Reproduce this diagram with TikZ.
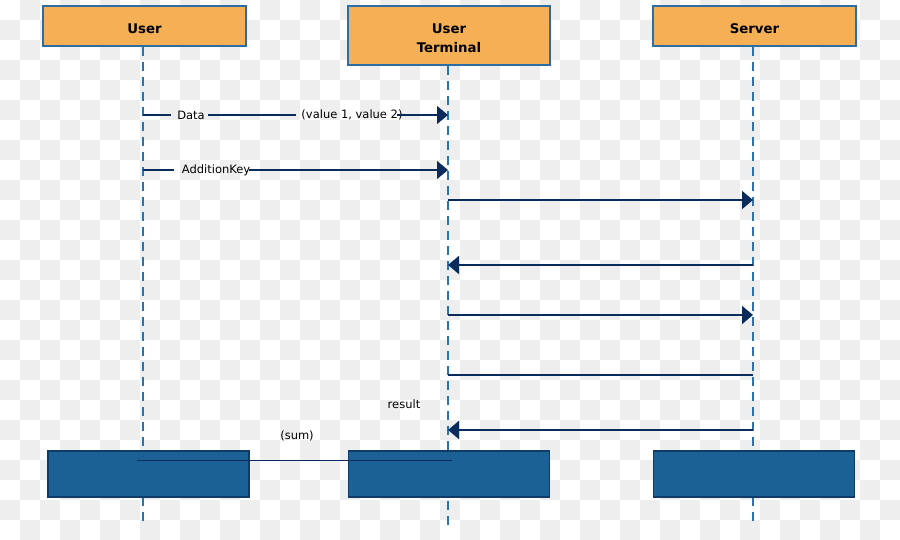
\documentclass[tikz,border=0pt]{standalone}
\usepackage{fontspec}
\setmainfont{DejaVu Sans}
\usetikzlibrary{arrows.meta}
\definecolor{bggrey}{HTML}{EEEEEE}
\definecolor{headfill}{HTML}{F5AF55}
\definecolor{headdraw}{HTML}{2C6EA4}
\definecolor{lifecol}{HTML}{2A73AE}
\definecolor{boxfill}{HTML}{1B6195}
\definecolor{boxdraw}{HTML}{0E3B6A}
\definecolor{msgcol}{HTML}{0B2B5C}
\begin{document}
\begin{tikzpicture}[x=1pt,y=-1pt,
  head/.style={draw=headdraw,line width=1.5pt,fill=headfill,inner sep=0pt},
  headtext/.style={font=\fontsize{13.3}{19}\selectfont\bfseries,align=center,inner sep=0pt,yshift=-2.5pt},
  footbox/.style={draw=boxdraw,line width=1.2pt,fill=boxfill,inner sep=0pt,
    minimum width=201pt,minimum height=46pt},
  lifeline/.style={draw=lifecol,line width=2pt,dash pattern=on 9pt off 6pt},
  msg/.style={draw=msgcol,line width=2pt},
  msgthin/.style={draw=msgcol,line width=1.3pt},
  tip/.style={-{Triangle[length=11pt,width=18pt]}},
  lbl/.style={font=\fontsize{11.5}{13}\selectfont,inner sep=0pt,text=black}
]
\useasboundingbox (0,0) rectangle (900,540);
% transparent-style checkerboard background
\begin{scope}
\clip (0,0) rectangle (900,540);
\fill[white] (0,0) rectangle (900,540);
\foreach \j in {0,...,26}{
  \pgfmathtruncatemacro\s{mod(\j,2)}
  \foreach \k in {0,...,22}{
    \fill[bggrey] ({(2*\k+1-\s)*20},{\j*20}) rectangle ++(20,20);
  }
}
\end{scope}

% header boxes
\node[head,minimum width=203pt,minimum height=40pt,
  label={[headtext]center:User}] (huser) at (144.5,26) {};
\node[head,minimum width=202pt,minimum height=59pt,
  label={[headtext]center:User\\Terminal}] (hterm) at (449,35.5) {};
\node[head,minimum width=203pt,minimum height=40pt,
  label={[headtext]center:Server}] (hserv) at (754.5,26) {};

% lifelines
\coordinate (ut) at (143,47);  \coordinate (ub) at (143,526);
\coordinate (tt) at (448,66);  \coordinate (tb) at (448,526);
\coordinate (st) at (753,47);  \coordinate (sb) at (753,526);
\draw[lifeline] (ut) -- (ub);
\draw[lifeline] (tt) -- (tb);
\draw[lifeline] (st) -- (sb);

% message 1: Data (value 1, value 2)
\coordinate (u1) at (143,115); \coordinate (t1) at (448,115);
\node[lbl] (ldata) at (191,115) {Data};
\node[lbl] (lval) at (352,115) {(value 1, value 2)};
\coordinate (v1) at (397,115);
\draw[msgthin] (u1) -- ([xshift=-6pt]ldata.west);
\draw[msgthin] ([xshift=3pt]ldata.east) -- ([xshift=-5pt]lval.west);
\draw[msgthin,tip] (v1) -- (t1);

% message 2: AdditionKey
\coordinate (u2) at (143,170); \coordinate (t2) at (448,170);
\node[lbl] (lkey) at (216,170) {AdditionKey};
\coordinate (k2) at (249,170);
\draw[msgthin] (u2) -- ([xshift=-8pt]lkey.west);
\draw[msgthin,tip] (k2) -- (t2);

% messages 3..7
\coordinate (t3) at (448,200); \coordinate (s3) at (753,200);
\draw[msg,tip] (t3) -- (s3);
\coordinate (s4) at (753,265); \coordinate (t4) at (448,265);
\draw[msg,tip] (s4) -- (t4);
\coordinate (t5) at (448,315); \coordinate (s5) at (753,315);
\draw[msg,tip] (t5) -- (s5);
\coordinate (t6) at (448,375); \coordinate (s6) at (753,375);
\draw[msg] (t6) -- (s6);
\coordinate (s7) at (753,430); \coordinate (t7) at (448,430);
\draw[msg,tip] (s7) -- (t7);
\node[lbl] (lresult) at (404,404) {result};

% bottom boxes
\node[footbox] (fuser) at (148.5,474) {};
\node[footbox] (fterm) at (449,474) {};
\node[footbox] (fserv) at (754,474) {};

% sum line
\coordinate (sumA) at (137,460.5); \coordinate (sumB) at (452,460.5);
\draw[msgcol,line width=1.5pt] (sumA) -- (sumB);
\node[lbl] (lsum) at (297,436) {(sum)};
\end{tikzpicture}
\end{document}
